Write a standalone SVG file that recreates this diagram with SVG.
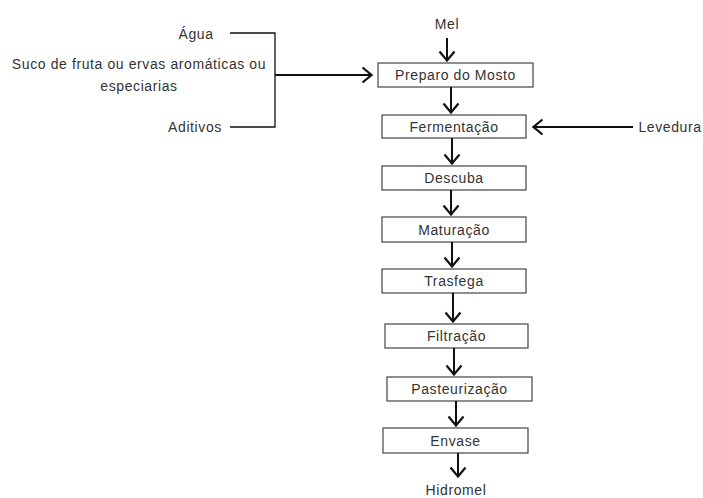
<svg xmlns="http://www.w3.org/2000/svg" width="703" height="498" viewBox="0 0 703 498">
<defs>
<marker id="v" viewBox="0 0 12 18" refX="11" refY="9" markerWidth="12" markerHeight="18" markerUnits="userSpaceOnUse" orient="auto">
<path d="M1.5,1.5 L10.5,9 L1.5,16.5" fill="none" stroke="#111" stroke-width="2.2"/>
</marker>
<style>
text{font-family:"Liberation Sans",Arial,sans-serif;font-size:14px;letter-spacing:0.6px;fill:#333;text-anchor:middle;dominant-baseline:central}
.b rect{fill:#fff;stroke:#444;stroke-width:1.2}
.c path{fill:none;stroke:#111;stroke-width:2}
.c path.a{marker-end:url(#v)}
.c path.t{stroke-width:1.3}
</style>
</defs>
<rect width="703" height="498" fill="#fff"/>
<g id="mel"><text x="447" y="24">Mel</text></g>
<g id="agua"><text x="196" y="34">Água</text></g>
<g id="suco"><text x="139" y="64">Suco de fruta ou ervas aromáticas ou</text><text x="139" y="86">especiarias</text></g>
<g id="aditivos"><text x="195" y="127">Aditivos</text></g>
<g id="levedura"><text x="670" y="127">Levedura</text></g>
<g id="hidromel"><text x="456" y="490">Hidromel</text></g>
<g id="preparo" class="b"><rect x="378" y="63" width="155" height="24"/><text x="455.5" y="75">Preparo do Mosto</text></g>
<g id="fermentacao" class="b"><rect x="382" y="115" width="144" height="23"/><text x="454" y="126.5">Fermentação</text></g>
<g id="descuba" class="b"><rect x="382" y="166" width="144" height="24"/><text x="454" y="178">Descuba</text></g>
<g id="maturacao" class="b"><rect x="382" y="217" width="144" height="25"/><text x="454" y="229.5">Maturação</text></g>
<g id="trasfega" class="b"><rect x="382" y="269" width="144" height="24"/><text x="454" y="281">Trasfega</text></g>
<g id="filtracao" class="b"><rect x="385" y="324" width="143" height="24"/><text x="456.5" y="336">Filtração</text></g>
<g id="pasteurizacao" class="b"><rect x="387" y="377" width="145" height="24"/><text x="459.5" y="389">Pasteurização</text></g>
<g id="envase" class="b"><rect x="383" y="428" width="145" height="25"/><text x="455.5" y="440.5">Envase</text></g>
<g id="connectors" class="c">
<path class="t" d="M230,33 H275 V127 H230"/>
<path class="a" d="M275,75 H372"/>
<path class="a" d="M633,127 H533"/>
<path class="a" d="M447,38 V61"/>
<path class="a" d="M451,87 V113"/>
<path class="a" d="M452,138 V164"/>
<path class="a" d="M451,190 V215"/>
<path class="a" d="M452,242 V267"/>
<path class="a" d="M453,293 V322"/>
<path class="a" d="M454,348 V375"/>
<path class="a" d="M456,401 V426"/>
<path class="a" d="M458,453 V477"/>
</g>
</svg>
